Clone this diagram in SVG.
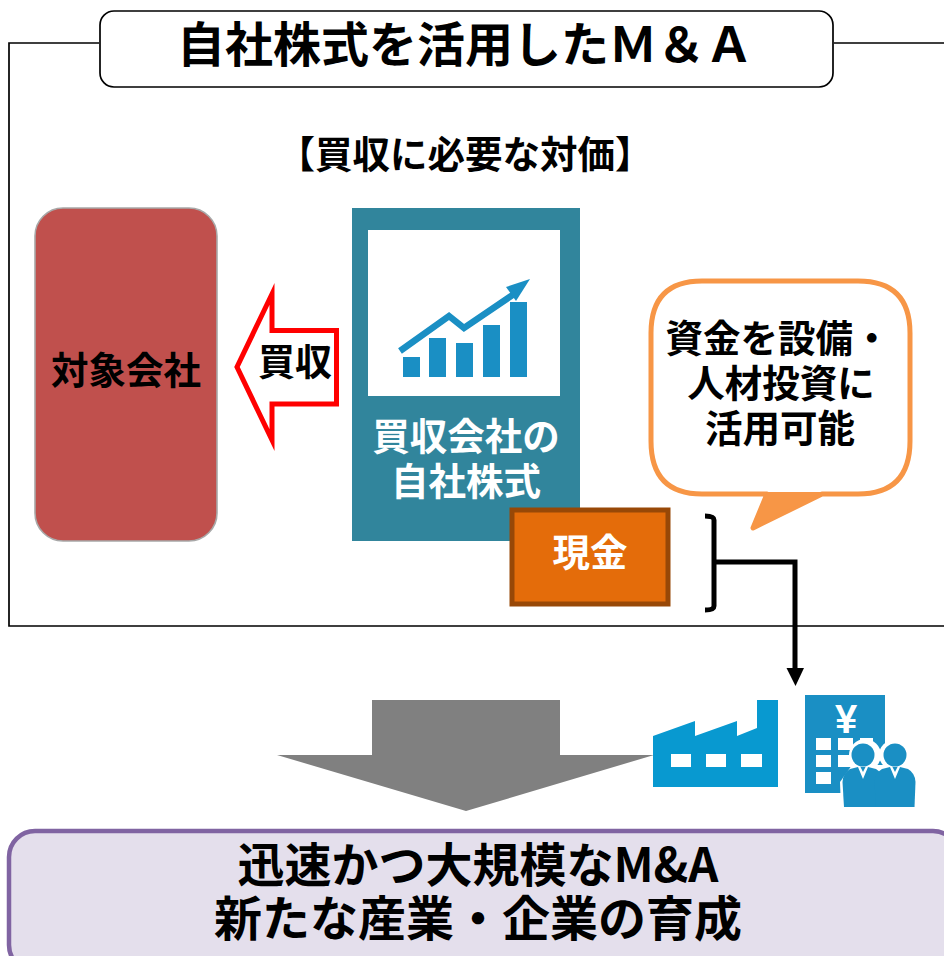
<svg xmlns="http://www.w3.org/2000/svg" width="944" height="956" viewBox="0 0 944 956">
<style>
text{font-family:"Noto Sans CJK JP","Noto Sans CJK SC",sans-serif;font-weight:700;text-anchor:middle;fill:#000}
.w{fill:#fff}
.blue{fill:#1a8fc4}
</style>
<defs>
<g id="person"><circle cx="0" cy="0" r="11.500" class="blue"/><path class="blue" d="M-13,14 L-5,12 H5 L13,14 Q20,18 20.500,27 L19.500,52 H-19 L-20.500,27 Q-20,18 -13,14Z"/><path class="w" d="M-5,12 L0,24 L5,12 H2.500 L0,17 L-2.500,12Z"/></g>
</defs>
<rect width="944" height="956" fill="#fff"/>
<g id="frame"><path d="M944,43 H834 M99,43 H9 V626 H944" fill="none" stroke="#000" stroke-width="1.7"/></g>
<g id="title"><rect x="100" y="11" width="733" height="76" rx="14" fill="#fff" stroke="#000" stroke-width="1.7"/><text x="465" y="62" font-size="48">自社株式を活用したＭ＆Ａ</text></g>
<g id="caption"><text x="465" y="168" font-size="37.5">【買収に必要な対価】</text></g>
<g id="target"><rect x="35" y="208" width="182" height="333" rx="28" fill="#c0504d" stroke="#a8a8a8" stroke-width="1.6"/><text x="126" y="384" font-size="37.5">対象会社</text></g>
<g id="buy-arrow"><path d="M272,294 L237,367 L272,440 V404 H336.500 V330.500 H272Z" fill="#fff" stroke="#f00" stroke-width="5" stroke-miterlimit="10"/><text x="295" y="376" font-size="37">買収</text></g>
<g id="stock"><rect x="352" y="208" width="228" height="333" fill="#31859c"/><rect x="368" y="230" width="192" height="166" fill="#fff"/>
<g class="blue"><rect x="403" y="357" width="17" height="20"/><rect x="429" y="338" width="17" height="39"/><rect x="456" y="343" width="17" height="34"/><rect x="483" y="325" width="17" height="52"/><rect x="510" y="302" width="17" height="75"/></g>
<path d="M400,351 L449,316 L464,328 L514,294" fill="none" stroke="#1a8fc4" stroke-width="6.500"/><path d="M506,287 L530,279 L516,301Z" fill="#1a8fc4"/>
<text x="466" y="450" font-size="37.5" class="w">買収会社の</text><text x="466" y="495" font-size="37.5" class="w">自社株式</text></g>
<g id="cash"><rect x="512" y="510" width="156" height="94" fill="#e46c0a" stroke="#984807" stroke-width="5"/><text x="590" y="566" font-size="37.5" class="w">現金</text></g>
<g id="callout"><path d="M702,281 H858 Q910,281 910,333 V441 Q910,494 858,494 H822 L753,528 L767,494 H702 Q651,494 651,441 V333 Q651,281 702,281Z" fill="#fff" stroke="#f79646" stroke-width="5" stroke-linejoin="round"/><path d="M767,492 L753,528 L822,492Z" fill="#f79646"/>
<text x="778" y="352" font-size="37.5">資金を設備・</text><text x="781" y="397" font-size="37.5">人材投資に</text><text x="780" y="442" font-size="37.5">活用可能</text></g>
<g id="connectors"><path d="M705,516 Q714,516 714,520 V606 Q714,610 705,610 M714,562 H795 V670" fill="none" stroke="#000" stroke-width="5"/><path d="M786.500,668 H804 L795.500,686Z" fill="#000"/></g>
<g id="down-arrow"><path d="M372,700 H560 V755 H654 L466,811 L277,755 H372Z" fill="#808080"/></g>
<g id="factory"><path d="M653,736 L695,721 V736 L737,721 V736 L757,728 V700 H778 V787 H653Z" fill="#0899d0"/><g class="w"><rect x="671" y="754" width="20" height="13"/><rect x="706" y="754" width="20" height="13"/><rect x="741" y="754" width="21" height="13"/></g></g>
<g id="bank"><rect x="805" y="695" width="80" height="98" class="blue"/>
<text x="846" y="733" font-size="40" class="w" style="font-family:'Liberation Sans',sans-serif">¥</text>
<g class="w"><rect x="816" y="738" width="15" height="12"/><rect x="838" y="738" width="15" height="12"/><rect x="860" y="738" width="13" height="12"/><rect x="816" y="755" width="15" height="12"/><rect x="838" y="755" width="15" height="12"/><rect x="816" y="772" width="15" height="12"/></g>
<circle cx="865" cy="755" r="16" fill="#fff"/><circle cx="894" cy="755" r="15" fill="#fff"/><path d="M840,782 L852,765 H905 L918,780 L917,810 H841Z" fill="#fff"/>
<use href="#person" x="863" y="755"/><use href="#person" x="895" y="755"/></g>
<g id="result"><rect x="9" y="831" width="950" height="140" rx="26" fill="#e4dfec" stroke="#8064a2" stroke-width="4.5"/><text x="478" y="882" font-size="47">迅速かつ大規模なM&amp;A</text><text x="478" y="936" font-size="48">新たな産業・企業の育成</text></g>
</svg>
